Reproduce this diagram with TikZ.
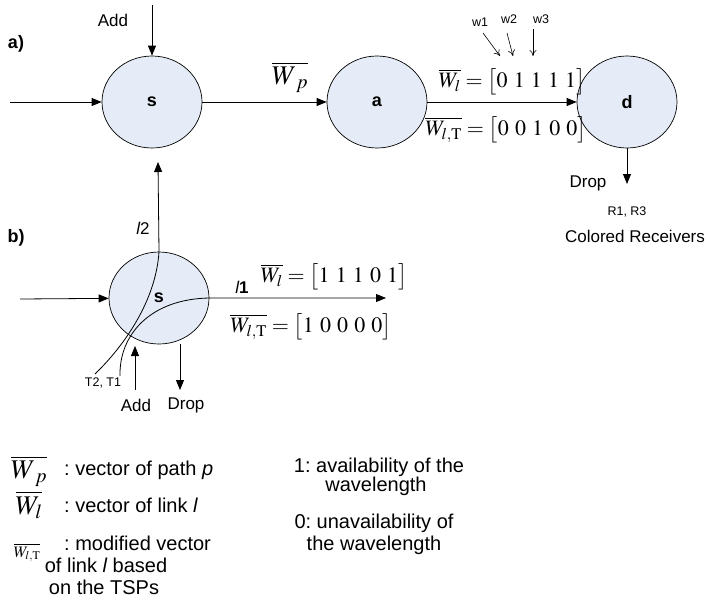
\documentclass[tikz,border=0pt]{standalone}
\usepackage{mathptmx}
\usepackage{fontspec}
\setmainfont{Liberation Sans}
\usetikzlibrary{arrows.meta,shapes.geometric}
\definecolor{nodefill}{RGB}{230,236,247}
\frenchspacing
\tikzset{
  nd/.style={draw, fill=nodefill, ellipse, minimum width=100pt, minimum height=92pt, inner sep=0pt, line width=0.7pt, font=\fontsize{18}{20}\selectfont\bfseries},
  ar/.style={-{Triangle[length=10pt,width=8pt]}, line width=0.8pt},
  thin ar/.style={-{To[length=6pt,width=7pt]}, line width=0.6pt},
  lbl/.style={inner sep=0pt, font=\fontsize{17}{20}\selectfont},
  hdr/.style={inner sep=0pt, font=\fontsize{18}{20}\selectfont\bfseries},
  sml/.style={inner sep=0pt, font=\fontsize{12.5}{14}\selectfont},
  leg/.style={inner sep=0pt, font=\fontsize{20}{22}\selectfont},
  frm/.style={inner sep=0pt, font=\fontsize{22}{26}\selectfont},
  bigfrm/.style={inner sep=0pt, font=\fontsize{27}{30}\selectfont},
}
\begin{document}
\begin{tikzpicture}[x=1pt,y=-1pt]
\useasboundingbox (0,0) rectangle (710,613);
% ---- a) ----
\node[hdr] (la) at (16,44) {a)};
\node[nd] (s) at (152,102) {s};
\node[nd] (a) at (377,102) {a};
\node[nd] (d) at (627,102) {d};
\coordinate (inS) at (10,102);
\draw[ar] (inS) -- (s);
\coordinate (addTop) at (152,5);
\draw[ar] (addTop) -- (s.north);
\node[lbl] (addA) at (113,20) {Add};
\draw[ar] (s) -- (a);
\draw[ar] (a) -- (d);
\node[bigfrm] (wp) at (290,77) {$\overline{W_{\;p}}$};
\node[frm] (wla) at (512,82) {$\overline{W_{l}}=\bigl[0\ 1\ 1\ 1\ 1\bigr]$};
\node[frm] (wlta) at (506,130) {$\overline{W_{l,\mathrm{T}}}=\bigl[0\ 0\ 1\ 0\ 0\bigr]$};
\node[sml] (w1) at (480,22) {w1};
\node[sml] (w2) at (509,19) {w2};
\node[sml] (w3) at (541,19) {w3};
\coordinate (w1s) at (483,33); \coordinate (w1e) at (500,56);
\coordinate (w2s) at (507,33); \coordinate (w2e) at (513,56);
\coordinate (w3s) at (533,29); \coordinate (w3e) at (533,56);
\draw[thin ar] (w1s) -- (w1e);
\draw[thin ar] (w2s) -- (w2e);
\draw[thin ar] (w3s) -- (w3e);
\coordinate (dropEnd) at (627,184);
\draw[ar] (d) -- (dropEnd);
\node[lbl] (dropA) at (588,183) {Drop};
\node[sml] (rr) at (627,212) {R1, R3};
\node[lbl] (cr) at (635,236) {Colored Receivers};
% ---- b) ----
\node[hdr] (lb) at (16,238) {b)};
\node[nd] (s2) at (159,298) {s};
\coordinate (inS2) at (20,299);
\draw[ar] (inS2) -- (s2);
\coordinate (l2b) at (95,374);
\coordinate (l2t) at (158,162);
\draw[ar] (l2b) .. controls (125,345) and (156,300) .. (s2.north) -- (l2t);
\coordinate (l1b) at (120,376);
\coordinate (l1e) at (386,298);
\draw[ar] (l1b) .. controls (119,335) and (150,299) .. (s2.east) -- (l1e);
\node[lbl] (l1) at (242,287) {\itshape l\upshape\bfseries 1};
\node[lbl] (l2) at (143,228) {\itshape l\upshape 2};
\node[sml] (tt) at (103,383) {T2, T1};
\coordinate (addB0) at (135,390); \coordinate (addB1) at (135,346);
\draw[ar] (addB0) -- (addB1);
\coordinate (dropB0) at (180,344); \coordinate (dropB1) at (180,390);
\draw[ar] (dropB0) -- (dropB1);
\node[lbl] (addB) at (136,405) {Add};
\node[lbl] (dropB) at (186,405) {Drop};
\node[frm] (wlb) at (334,277) {$\overline{W_{l}}=\bigl[1\ 1\ 1\ 0\ 1\bigr]$};
\node[frm] (wltb) at (311,327) {$\overline{W_{l,\mathrm{T}}}=\bigl[1\ 0\ 0\ 0\ 0\bigr]$};
% ---- legend ----
\node[bigfrm] (gwp) at (29,471) {$\overline{W_{\;p}}$};
\node[leg, anchor=west] (gt1) at (64,470) {: vector of path \itshape p};
\node[bigfrm] (gwl) at (29,505) {$\overline{W_{l}}$};
\node[leg, anchor=west] (gt2) at (64,505) {: vector of link \itshape l};
\node[inner sep=0pt, font=\fontsize{16}{20}\selectfont] (gwlt) at (27,553) {$\overline{W_{l,\mathrm{T}}}$};
\node[leg, anchor=west] (gt3) at (64,543) {: modified vector};
\node[leg] (gt4) at (106,565) {of link {\itshape l} based};
\node[leg] (gt5) at (104,587) {on the TSPs};
\node[leg] (gr1) at (379,467) {1: availability of the};
\node[leg] (gr2) at (376,486) {wavelength};
\node[leg] (gr3) at (374,523) {0: unavailability of};
\node[leg] (gr4) at (374,545) {the wavelength};
\end{tikzpicture}
\end{document}
